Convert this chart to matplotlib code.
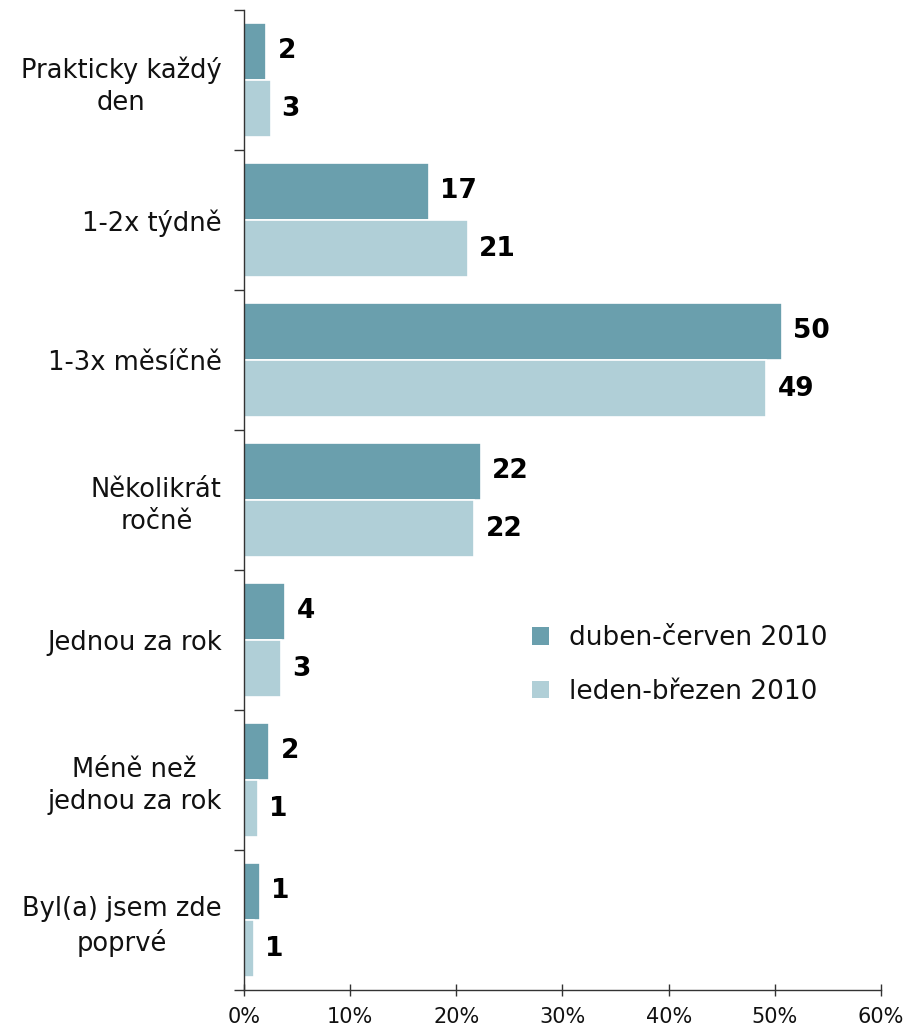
import matplotlib
matplotlib.use("Agg")
import matplotlib.pyplot as plt
from matplotlib.patches import Patch
import numpy as np

categories = ["Prakticky každý\nden", "1-2x týdně", "1-3x měsíčně", "Několikrát\nročně",
              "Jednou za rok", "Méně než\njednou za rok", "Byl(a) jsem zde\npoprvé"]
series_names = ["duben-červen 2010", "leden-březen 2010"]
values_q2 = [2.1, 17.4, 50.7, 22.3, 3.9, 2.4, 1.5]
values_q1 = [2.5, 21.1, 49.2, 21.7, 3.5, 1.3, 0.9]
labels_q2 = ["2", "17", "50", "22", "4", "2", "1"]
labels_q1 = ["3", "21", "49", "22", "3", "1", "1"]
xticks = [0, 10, 20, 30, 40, 50, 60]
xtick_labels = ["0%", "10%", "20%", "30%", "40%", "50%", "60%"]

c_dark = "#6A9FAD"
c_light = "#B0CFD7"

fig = plt.figure(figsize=(9.08, 10.30), dpi=100)
ax = fig.add_axes([244/908, 1-990/1030, (881-244)/908, (990-10)/1030])

n = len(categories)
y = np.arange(n)
h = 0.41
b1 = ax.barh(y - 0.205, values_q2, height=h, color=c_dark, edgecolor="white", linewidth=1.2)
b2 = ax.barh(y + 0.205, values_q1, height=h, color=c_light, edgecolor="white", linewidth=1.2)

for bars, labs in ((b1, labels_q2), (b2, labels_q1)):
    for rect, lab in zip(bars, labs):
        ax.annotate(lab, (rect.get_width(), rect.get_y() + rect.get_height()/2),
                    xytext=(8, 0), textcoords="offset points", va="center", ha="left",
                    fontsize=19, fontweight="bold", color="black")

ax.set_ylim(n - 0.5, -0.5)
ax.set_xlim(0, 60)
ax.set_yticks(y)
ax.set_yticklabels(categories, fontsize=18.5, multialignment="center", ha="right",
                   linespacing=1.3, color="#111111")
ax.tick_params(axis="y", which="major", length=0, pad=16)
ax.set_yticks(np.arange(-0.5, n, 1), minor=True)
ax.tick_params(axis="y", which="minor", length=7, width=1, color="#333333", direction="out")
ax.set_xticks(xticks)
ax.set_xticklabels(xtick_labels, fontsize=15, color="#111111")
ax.tick_params(axis="x", length=9, width=1, direction="inout", color="#333333", pad=8)

for s in ["top", "right"]:
    ax.spines[s].set_visible(False)
for s in ["left", "bottom"]:
    ax.spines[s].set_color("#333333")
    ax.spines[s].set_linewidth(1)

handles = [Patch(facecolor=c_dark, edgecolor="none"), Patch(facecolor=c_light, edgecolor="none")]
ax.legend(handles, series_names, loc="upper left", bbox_to_anchor=(0.435, 0.383), frameon=False,
          fontsize=19, handlelength=0.65, handleheight=0.65, handletextpad=0.75, labelspacing=1.05,
          borderaxespad=0, labelcolor="#111111")

fig.savefig("out.png", dpi=100)
